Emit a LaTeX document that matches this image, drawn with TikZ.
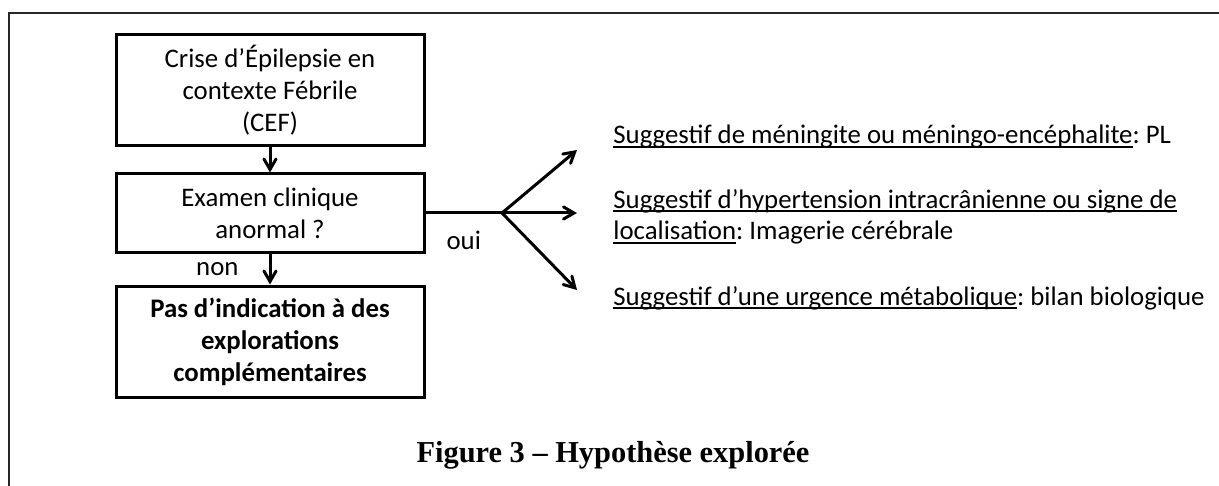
\documentclass[tikz,border=0pt]{standalone}
\usepackage{fontspec}
\setmainfont{Carlito}
\newfontfamily\legende{Liberation Serif}
\usepackage{tikz}
\usetikzlibrary{arrows}
\frenchspacing

\newsavebox{\boitesoul}
\newcommand{\souligne}[1]{\sbox{\boitesoul}{#1}\rlap{\rule[-2pt]{\wd\boitesoul}{1pt}}\usebox{\boitesoul}}

\begin{document}
\begin{tikzpicture}[x=0.5pt,y=-0.5pt,
		font=\fontsize{13.4}{16}\selectfont,
		boite/.style={draw,line width=1.5pt,minimum width=154pt,inner sep=0pt,align=center},
		fleche/.style={->,>=angle 60,line width=1.5pt},
		choix/.style={anchor=base west,align=left,inner sep=0pt}]
		\useasboundingbox (0,0) rectangle (1219,486);
		\draw[line width=1.3pt,black!85] (9,486) -- (9,13) -- (1219,13);
		
		\node[boite,minimum height=55.5pt] (cef) at (270,90.5) {Crise d’Épilepsie en\\contexte Fébrile\\(CEF)};
		\node[boite,minimum height=39pt] (examen) at (270,213) {Examen clinique\\anormal ?};
		\node[boite,minimum height=55.5pt,font=\fontsize{13.4}{16}\selectfont\bfseries] (pasind) at (270,341.5) {Pas d’indication à des\\explorations\\complémentaires};
		
		\draw[fleche] (cef) -- (examen);
		\draw[fleche] (examen) -- node[midway,left=15pt,inner sep=0pt] (non) {non} (pasind);
		
		\coordinate (fourche) at (502,213);
		\coordinate (vers1) at (577,150);
		\coordinate (vers2) at (577,213);
		\coordinate (vers3) at (577,290);
		\draw[line width=1.5pt] (examen.east) -- node[midway,below=8.5pt,inner sep=0pt] (oui) {oui} (fourche);
		\foreach \v in {vers1,vers2,vers3} {
		\draw[fleche] (fourche) -- (\v);
		}
		
		\node[choix] (meningite) at (613,144) {\souligne{Suggestif de méningite ou méningo-encéphalite}: PL};
		\node[choix] (htic) at (613,240) {\souligne{Suggestif d’hypertension intracrânienne ou signe de}\\\souligne{localisation}: Imagerie cérébrale};
		\node[choix] (metab) at (613,305) {\souligne{Suggestif d’une urgence métabolique}: bilan biologique};
		
		\node[anchor=base,font=\fontsize{15.2}{18}\legende\bfseries] (titre) at (613,462) {Figure 3 – Hypothèse explorée};
	\end{tikzpicture}
\end{document}
